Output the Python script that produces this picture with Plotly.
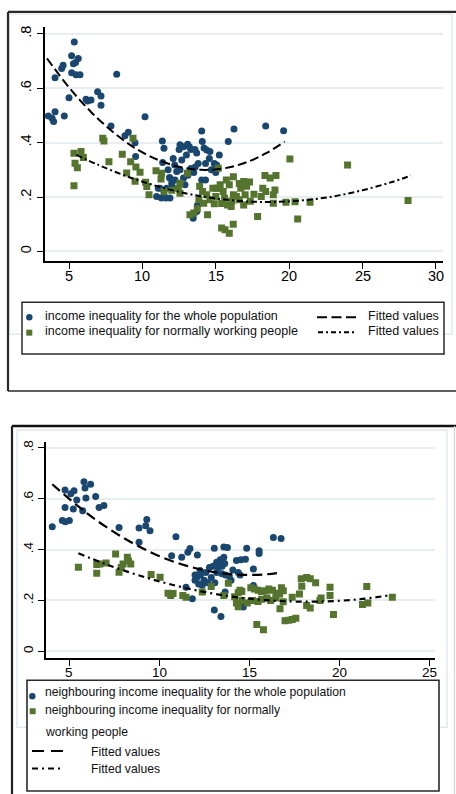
import plotly.graph_objects as go

# ---------------- data: top panel ----------------
whole_x = [3.59, 3.85, 3.95, 4.05, 4.05, 4.5, 4.6, 4.68, 5.0, 5.18, 5.36, 5.18, 5.3, 5.48, 5.63,
           5.45, 5.75, 6.16, 6.27, 6.5, 6.95, 7.18, 7.18, 7.86, 8.25, 8.81, 9.04, 9.5, 9.54, 10.18,
           11.36, 11.47, 11.38, 12.56, 12.5, 12.79, 13.08, 13.2, 13.3, 13.58, 13.7, 13.0, 12.68,
           12.1, 12.2, 12.56, 11.85, 11.75, 11.88, 12.0, 12.22, 12.34, 11.65, 11.2, 10.97, 11.3,
           11.6, 11.88, 11.08, 12.0, 14.04, 14.08, 14.2, 14.38, 14.6, 14.56, 14.3, 13.8, 14.9,
           15.24, 15.06, 14.04, 14.3, 15.85, 16.24, 18.4, 19.62, 13.46, 13.7, 13.75, 13.3, 13.1,
           12.8, 13.5, 14.7, 15.0, 12.9, 13.6]
whole_y = [0.498, 0.49, 0.478, 0.514, 0.639, 0.673, 0.685, 0.498, 0.565, 0.72, 0.77, 0.657, 0.69,
           0.65, 0.71, 0.695, 0.65, 0.56, 0.553, 0.557, 0.587, 0.572, 0.538, 0.461, 0.652, 0.425,
           0.438, 0.40, 0.349, 0.495, 0.406, 0.379, 0.327, 0.392, 0.375, 0.385, 0.394, 0.385, 0.375,
           0.375, 0.362, 0.355, 0.336, 0.342, 0.318, 0.30, 0.272, 0.30, 0.269, 0.251, 0.263, 0.294,
           0.232, 0.232, 0.202, 0.196, 0.196, 0.196, 0.232, 0.239, 0.443, 0.404, 0.38, 0.373, 0.367,
           0.342, 0.323, 0.323, 0.323, 0.355, 0.318, 0.263, 0.263, 0.404, 0.45, 0.461, 0.444, 0.122,
           0.147, 0.17, 0.305, 0.28, 0.27, 0.29, 0.30, 0.29, 0.245, 0.31]

working_x = [5.34, 5.82, 5.98, 5.41, 5.57, 5.34, 7.3, 7.38, 7.72, 8.63, 8.93, 9.2, 9.36, 9.56, 9.5,
             9.84, 10.22, 10.45, 10.3, 10.93, 11.27, 11.31, 11.47, 12.56, 12.56, 12.45, 13.06, 13.24,
             13.5, 13.74, 14.44, 13.85, 14.18, 15.17, 15.06, 15.4, 15.63, 15.92, 16.19, 14.38, 15.0,
             15.17, 15.4, 15.8, 16.05, 15.3, 15.92, 16.2, 16.4, 16.7, 17.0, 17.1, 17.35, 16.9, 18.2,
             18.4, 18.1, 18.92, 19.03, 18.92, 17.85, 19.78, 20.4, 20.58, 21.42, 28.1, 15.72, 16.2,
             16.6, 16.9, 18.35, 18.7, 19.1, 20.05, 23.98, 14.8, 15.5, 14.6, 14.9, 16.6, 17.6, 14.1,
             13.9, 15.6, 16.1, 17.3, 12.0]
working_y = [0.361, 0.367, 0.345, 0.324, 0.308, 0.241, 0.416, 0.406, 0.33, 0.357, 0.288, 0.33, 0.416,
             0.31, 0.258, 0.291, 0.254, 0.208, 0.239, 0.297, 0.266, 0.287, 0.22, 0.251, 0.214, 0.232,
             0.287, 0.135, 0.141, 0.157, 0.135, 0.19, 0.177, 0.306, 0.232, 0.086, 0.08, 0.067, 0.10,
             0.208, 0.202, 0.232, 0.176, 0.171, 0.165, 0.245, 0.245, 0.208, 0.202, 0.232, 0.208, 0.24,
             0.184, 0.171, 0.232, 0.22, 0.202, 0.208, 0.226, 0.177, 0.128, 0.181, 0.183, 0.119, 0.181,
             0.187, 0.263, 0.275, 0.25, 0.257, 0.279, 0.27, 0.279, 0.34, 0.318, 0.232, 0.22, 0.19,
             0.175, 0.19, 0.21, 0.22, 0.24, 0.195, 0.185, 0.255, 0.225]

# quadratic fitted values
fit_whole_x = [3.5, 5, 6.5, 8, 9.5, 11, 12.5, 14, 15.5, 17, 18.5, 19.7]
fit_whole_y = [0.710, 0.603, 0.513, 0.439, 0.380, 0.338, 0.311, 0.300, 0.305, 0.326, 0.363, 0.404]
fit_working_x = [5.5, 7, 9, 11, 13, 15, 17, 19, 21, 23, 25, 27, 28.3]
fit_working_y = [0.355, 0.318, 0.275, 0.240, 0.213, 0.195, 0.184, 0.182, 0.188, 0.202, 0.225, 0.255, 0.279]

# ---------------- data: bottom panel ----------------
nb_whole_x = [4.07, 4.63, 4.8, 5.02, 4.78, 4.78, 5.24, 5.1, 5.28, 5.43, 5.83, 5.89, 5.94, 6.2, 6.48,
              5.76, 6.67, 6.94, 7.78, 8.89, 9.32, 9.26, 9.5, 8.89, 10.94, 10.7, 11.26, 11.6, 11.72,
              12.13, 13.07, 13.6, 13.8, 14.87, 15.56, 15.56, 16.35, 16.78, 15.24, 13.2, 13.4, 13.6,
              13.65, 13.5, 13.3, 14.3, 14.55, 14.8, 14.1, 14.4, 14.5, 12.0, 12.1, 12.3, 12.5, 12.7,
              12.4, 12.2, 12.6, 12.8, 13.0, 13.2, 13.5, 13.7, 13.9, 12.0, 12.28, 11.5, 11.85, 13.07,
              13.44, 13.67, 15.24, 14.68, 12.9, 13.1, 14.0]
nb_whole_y = [0.49, 0.514, 0.51, 0.514, 0.634, 0.566, 0.56, 0.62, 0.631, 0.595, 0.667, 0.642, 0.603,
              0.657, 0.609, 0.553, 0.566, 0.573, 0.487, 0.485, 0.518, 0.494, 0.474, 0.429, 0.451,
              0.376, 0.37, 0.39, 0.404, 0.379, 0.405, 0.41, 0.408, 0.405, 0.396, 0.385, 0.448, 0.444,
              0.324, 0.35, 0.36, 0.37, 0.345, 0.335, 0.33, 0.357, 0.36, 0.362, 0.32, 0.31, 0.30, 0.28,
              0.29, 0.30, 0.28, 0.27, 0.26, 0.265, 0.31, 0.33, 0.335, 0.31, 0.305, 0.30, 0.295, 0.30,
              0.318, 0.252, 0.207, 0.163, 0.137, 0.233, 0.259, 0.174, 0.29, 0.27, 0.28]

nb_working_x = [5.52, 6.54, 6.54, 6.72, 7.06, 7.59, 7.78, 8.0, 8.24, 8.43, 8.3, 7.9, 9.56, 10.06,
                10.5, 10.78, 10.65, 11.32, 11.5, 12.4, 12.9, 13.85, 14.4, 14.5, 14.6, 15.1, 15.3,
                15.5, 15.7, 15.9, 16.1, 16.3, 16.5, 16.8, 16.9, 16.7, 14.3, 14.4, 14.6, 14.9, 15.2,
                15.5, 15.7, 16.0, 16.2, 16.5, 16.9, 15.43, 15.8, 17.0, 17.2, 17.4, 17.6, 16.72, 17.4,
                17.8, 17.9, 18.2, 18.4, 18.7, 19.0, 19.5, 18.2, 18.4, 18.94, 19.69, 19.5, 21.3, 21.6,
                21.54, 22.96, 17.93, 14.2, 13.6]
nb_working_y = [0.331, 0.307, 0.341, 0.343, 0.347, 0.383, 0.311, 0.343, 0.37, 0.343, 0.355, 0.33,
                0.302, 0.291, 0.228, 0.227, 0.22, 0.22, 0.213, 0.233, 0.255, 0.268, 0.23, 0.24, 0.235,
                0.25, 0.245, 0.24, 0.235, 0.238, 0.245, 0.24, 0.228, 0.25, 0.238, 0.225, 0.19, 0.175,
                0.20, 0.19, 0.20, 0.196, 0.205, 0.21, 0.20, 0.21, 0.195, 0.106, 0.085, 0.12, 0.122,
                0.125, 0.13, 0.167, 0.213, 0.225, 0.285, 0.29, 0.285, 0.27, 0.21, 0.22, 0.18, 0.17,
                0.20, 0.145, 0.252, 0.184, 0.19, 0.255, 0.213, 0.256, 0.215, 0.22]

fit_nb_whole_x = [4.07, 5.5, 7, 8.5, 10, 11.5, 13, 14.5, 16, 16.8]
fit_nb_whole_y = [0.657, 0.571, 0.492, 0.427, 0.375, 0.337, 0.312, 0.301, 0.303, 0.310]
fit_nb_working_x = [5.52, 7, 9, 11, 13, 15, 17, 19, 21, 22.8]
fit_nb_working_y = [0.386, 0.344, 0.296, 0.257, 0.227, 0.207, 0.197, 0.196, 0.204, 0.220]

y_ticks = [0, 0.2, 0.4, 0.6, 0.8]
y_ticktext = ["0", ".2", ".4", ".6", ".8"]
x_ticks_top = [5, 10, 15, 20, 25, 30]
x_ticks_bottom = [5, 10, 15, 20, 25]

NAVY = "#1a476f"
GREEN = "#55752f"
FONT = "Liberation Sans, Arial, sans-serif"

W, H = 456, 794


def fx(x):
    return x / W


def fy(y):
    return 1 - y / H


fig = go.Figure()

# top panel
fig.add_trace(go.Scatter(x=whole_x, y=whole_y, mode="markers", xaxis="x", yaxis="y",
                         marker=dict(symbol="circle", size=7, color=NAVY, line=dict(width=0))))
fig.add_trace(go.Scatter(x=working_x, y=working_y, mode="markers", xaxis="x", yaxis="y",
                         marker=dict(symbol="square", size=7, color=GREEN, line=dict(width=0))))
fig.add_trace(go.Scatter(x=fit_whole_x, y=fit_whole_y, mode="lines", xaxis="x", yaxis="y",
                         line=dict(color="black", width=2, dash="9px,4px", shape="spline")))
fig.add_trace(go.Scatter(x=fit_working_x, y=fit_working_y, mode="lines", xaxis="x", yaxis="y",
                         line=dict(color="black", width=2, dash="6px,3px,2px,3px", shape="spline")))

# bottom panel
fig.add_trace(go.Scatter(x=nb_whole_x, y=nb_whole_y, mode="markers", xaxis="x2", yaxis="y2",
                         marker=dict(symbol="circle", size=7, color=NAVY, line=dict(width=0))))
fig.add_trace(go.Scatter(x=nb_working_x, y=nb_working_y, mode="markers", xaxis="x2", yaxis="y2",
                         marker=dict(symbol="square", size=7, color=GREEN, line=dict(width=0))))
fig.add_trace(go.Scatter(x=fit_nb_whole_x, y=fit_nb_whole_y, mode="lines", xaxis="x2", yaxis="y2",
                         line=dict(color="black", width=2.2, dash="10px,5px", shape="spline")))
fig.add_trace(go.Scatter(x=fit_nb_working_x, y=fit_nb_working_y, mode="lines", xaxis="x2", yaxis="y2",
                         line=dict(color="black", width=2.2, dash="6px,4px,2px,4px", shape="spline")))

axis_common = dict(showline=True, linecolor="black", linewidth=1.5, ticks="outside",
                   ticklen=6, tickwidth=1.3, tickcolor="black", zeroline=False,
                   mirror=False, fixedrange=True)

GRID = "#e7eef2"

# x tick labels are placed as annotations below (at the tick values) for exact spacing
fig.update_layout(
    width=W, height=H,
    margin=dict(l=0, r=0, t=0, b=0),
    paper_bgcolor="white", plot_bgcolor="white",
    showlegend=False,
    font=dict(family=FONT, color="black"),
    xaxis=dict(domain=[fx(45), fx(443)], range=[3.365, 30.48], tickvals=x_ticks_top,
               showticklabels=False, showgrid=False, anchor="y", **axis_common),
    yaxis=dict(domain=[fy(260), fy(25)], range=[-0.0367, 0.8257], tickvals=y_ticks,
               ticktext=y_ticktext, tickangle=-90, showgrid=True, gridcolor=GRID, gridwidth=2,
               anchor="x", tickfont=dict(size=14.5), **axis_common),
    xaxis2=dict(domain=[fx(46), fx(435)], range=[3.722, 25.33], tickvals=x_ticks_bottom,
                showticklabels=False, showgrid=False, anchor="y2", **axis_common),
    yaxis2=dict(domain=[fy(658), fy(441)], range=[-0.0275, 0.8235], tickvals=y_ticks,
                ticktext=y_ticktext, tickangle=-90, showgrid=True, gridcolor=GRID, gridwidth=2,
                anchor="x2", tickfont=dict(size=13.5), **axis_common),
)

shapes = []


def rect(x0, y0, x1, y1, color, width, fill=None, layer="above"):
    shapes.append(dict(type="rect", xref="paper", yref="paper",
                       x0=fx(x0), x1=fx(x1), y0=fy(y1), y1=fy(y0),
                       line=dict(color=color, width=width),
                       fillcolor=fill if fill else "rgba(0,0,0,0)", layer=layer))


def seg(x0, y0, x1, y1, color, width, dash="solid"):
    shapes.append(dict(type="line", xref="paper", yref="paper",
                       x0=fx(x0), x1=fx(x1), y0=fy(y0), y1=fy(y1),
                       line=dict(color=color, width=width, dash=dash)))


def dot(cx, cy, d, color):
    shapes.append(dict(type="circle", xref="paper", yref="paper",
                       x0=fx(cx - d / 2), x1=fx(cx + d / 2), y0=fy(cy + d / 2), y1=fy(cy - d / 2),
                       line=dict(width=0), fillcolor=color))


def square(cx, cy, d, color):
    shapes.append(dict(type="rect", xref="paper", yref="paper",
                       x0=fx(cx - d / 2), x1=fx(cx + d / 2), y0=fy(cy + d / 2), y1=fy(cy - d / 2),
                       line=dict(width=0), fillcolor=color))


LIGHT = "#e1e9ee"
DARK = "#2a2a2a"

# top panel frames
rect(9, 12, 452, 333, LIGHT, 1.5, layer="below")
seg(8, 10, 456, 10, DARK, 2.2)
seg(8, 10, 8, 390, DARK, 2.2)
seg(8, 390, 456, 390, DARK, 1.6)
rect(22, 301, 444, 353, DARK, 1.5, fill="white")

# bottom panel frames
rect(17, 429, 447, 727, LIGHT, 1.5, layer="below")
seg(12, 425, 456, 425, "#111111", 2.4)
seg(12, 425, 12, 794, "#222222", 2.2)
seg(454.5, 425, 454.5, 794, "#d4d4d4", 1.2)
rect(27, 680, 439, 791, DARK, 1.6, fill="white")

# top legend symbols
dot(29.3, 316, 6.5, NAVY)
square(29.3, 331.5, 6, GREEN)
seg(317, 316, 356, 316, "black", 2, dash="10px,4.5px")
seg(318, 331, 357, 331, "black", 2, dash="5px,3px,2px,3px")

# bottom legend symbols
dot(32.3, 696, 6.5, NAVY)
square(32.7, 711, 6, GREEN)
seg(32, 751, 63, 751, "black", 2, dash="12px,7px")
seg(32, 768.5, 63, 768.5, "black", 2, dash="6px,4px,2px,4px")

annotations = []


def label(x, y, text, size):
    annotations.append(dict(xref="paper", yref="paper", x=fx(x), y=fy(y), text=text,
                            showarrow=False, xanchor="left", yanchor="middle",
                            font=dict(family=FONT, size=size, color="#111111")))


def xtick_label(xref, v, y, size):
    annotations.append(dict(xref=xref, yref="paper", x=v, y=fy(y), text=str(v),
                            showarrow=False, xanchor="center", yanchor="middle",
                            font=dict(family=FONT, size=size, color="black")))


for v in x_ticks_top:
    xtick_label("x", v, 274.5, 14.5)
for v in x_ticks_bottom:
    xtick_label("x2", v, 672, 13.5)

label(43, 315, "income inequality for the whole population", 12.5)
label(43, 330, "income inequality for normally working people", 12.5)
label(366, 315, "Fitted values", 12.5)
label(366, 330, "Fitted values", 12.5)

label(43, 692, "neighbouring income inequality for the whole population", 12.2)
label(43, 709.5, "neighbouring income inequality for normally", 12.2)
label(43, 732, "working people", 12.2)
label(89, 752, "Fitted values", 12.2)
label(89, 769, "Fitted values", 12.2)

fig.update_layout(shapes=shapes, annotations=annotations)

fig.write_html("out.html")
